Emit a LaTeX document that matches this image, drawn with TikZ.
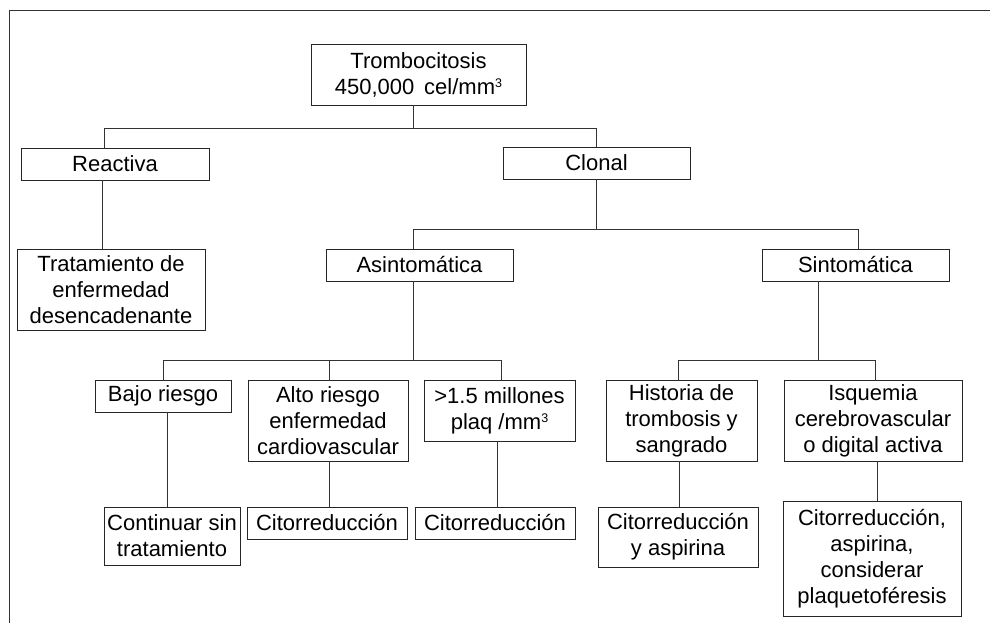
\documentclass[tikz,border=0pt]{standalone}
\usepackage{fontspec}
\setmainfont{Liberation Sans}
\newcommand{\cubesup}{\raisebox{6.5pt}{\fontsize{12.5}{12.5}\selectfont 3}}
\begin{document}
\begin{tikzpicture}[x=1pt,y=-1pt,
  box/.style={draw=black!85, line width=0.9pt, inner sep=0pt, align=center,
    font=\fontsize{22}{26}\selectfont, text=black},
  link/.style={draw=black!80, line width=0.9pt}]
\useasboundingbox (0,0) rectangle (990,623);
\coordinate (fbl) at (9.5,623);
\coordinate (ftl) at (9.5,10.7);
\coordinate (ftr) at (990,10.7);
\draw[link] (fbl) -- (ftl) -- (ftr);

\node[box, minimum width=215pt, minimum height=61pt] (top) at (418.5,74.5) {Trombocitosis\\450,000\, cel/mm\cubesup};
\node[box, minimum width=188pt, minimum height=32pt] (react) at (115,164) {Reactiva};
\node[box, minimum width=188pt, minimum height=81pt] (trat) at (111,289.5) {Tratamiento de\\enfermedad\\desencadenante};
\node[box, minimum width=187pt, minimum height=32pt] (clonal) at (596.5,163) {Clonal};
\node[box, minimum width=187pt, minimum height=32pt] (asint) at (419.5,265) {Asintomática};
\node[box, minimum width=187pt, minimum height=32pt] (sint) at (855.5,265) {Sintomática};
\node[box, minimum width=136pt, minimum height=32pt] (bajo) at (163,396) {Bajo riesgo};
\node[box, minimum width=160pt, minimum height=81pt] (alto) at (328,420.5) {Alto riesgo\\enfermedad\\cardiovascular};
\node[box, minimum width=151pt, minimum height=61pt] (mill) at (499.5,410.5) {>1.5 millones\\plaq /mm\cubesup};
\node[box, minimum width=136pt, minimum height=58pt] (cont) at (172,536) {Continuar sin\\tratamiento};
\node[box, minimum width=160pt, minimum height=32pt] (citoA) at (327,523) {Citorreducción};
\node[box, minimum width=160pt, minimum height=32pt] (citoB) at (495,523) {Citorreducción};
\node[box, minimum width=151pt, minimum height=81pt] (hist) at (681.5,420.5) {Historia de\\trombosis y\\sangrado};
\node[box, minimum width=178pt, minimum height=81pt] (isq) at (873,420.5) {Isquemia\\cerebrovascular\\o digital activa};
\node[box, minimum width=160pt, minimum height=60pt] (citoasp) at (678,537) {Citorreducción\\y aspirina};
\node[box, minimum width=178pt, minimum height=115pt] (final) at (872,558.5) {Citorreducción,\\aspirina,\\considerar\\plaquetoféresis};

% level 1
\draw[link] ([xshift=-5.5pt]top.south) -- ++(0,23) coordinate (b1);
\draw[link] ([xshift=-11pt]react.north) |- (b1) -| (clonal.north);
\draw[link] ([xshift=-13pt]react.south) -- ([xshift=-13pt]react.south |- trat.north);
% clonal
\draw[link] (clonal.south) -- ++(0,50) coordinate (b2);
\draw[link] ([xshift=-6.5pt]asint.north) |- (b2) -| ([xshift=2.5pt]sint.north);
% asintomatica
\draw[link] ([xshift=-6.5pt]asint.south) -- ++(0,79) coordinate (b3);
\draw[link] (bajo.north) |- (b3) -| ([xshift=1.5pt]mill.north);
\draw[link] ([xshift=1pt]alto.north) -- ([xshift=1pt]alto.north |- b3);
% sintomatica
\draw[link] ([xshift=-37.5pt]sint.south) -- ++(0,79) coordinate (b4);
\draw[link] ([xshift=-3.5pt]hist.north) |- (b4) -| ([xshift=2pt]isq.north);
% lower
\draw[link] ([xshift=4pt]bajo.south) -- ([xshift=4pt]bajo.south |- cont.north);
\draw[link] ([xshift=1pt]alto.south) -- ([xshift=1pt]alto.south |- citoA.north);
\draw[link] ([xshift=-2.5pt]mill.south) -- ([xshift=-2.5pt]mill.south |- citoB.north);
\draw[link] ([xshift=-2.5pt]hist.south) -- ([xshift=-2.5pt]hist.south |- citoasp.north);
\draw[link] ([xshift=4pt]isq.south) -- ([xshift=4pt]isq.south |- final.north);
\end{tikzpicture}
\end{document}
